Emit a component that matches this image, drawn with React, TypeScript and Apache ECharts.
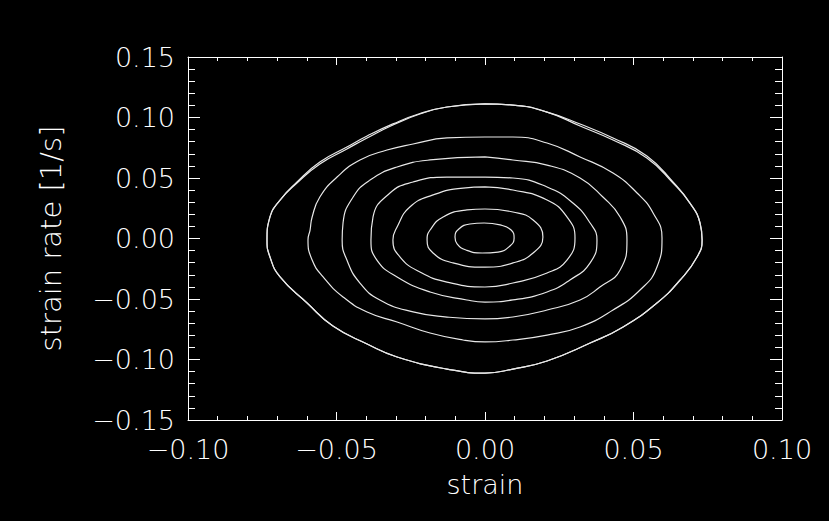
import React, { useEffect, useRef } from "react";
import * as echarts from "echarts";

// Phase-plane trajectories: [strain, strain rate [1/s]]
const loop1: [number, number][] = [
  [-0.0003, 0.0128], [0.0051, 0.0112], [0.0088, 0.007], [0.0098, 0.0004],
  [0.0084, -0.0062], [0.0044, -0.0112], [-0.001, -0.012], [-0.0064, -0.0095],
  [-0.0094, -0.0045], [-0.0101, 0.0012], [-0.0088, 0.0079], [-0.0051, 0.012],
];
const loop2: [number, number][] = [
  [0, 0.0244], [0.0094, 0.0219], [0.0162, 0.0153], [0.0195, 0.0012],
  [0.0162, -0.012], [0.0094, -0.0202], [0, -0.0236], [-0.0108, -0.0202],
  [-0.0175, -0.012], [-0.0195, -0.0012], [-0.0185, 0.007], [-0.0141, 0.0178],
  [-0.0061, 0.0236],
];
const loop3: [number, number][] = [
  [0, 0.0426], [0.0094, 0.0401], [0.0209, 0.0318], [0.0276, 0.0178],
  [0.0303, 0.0004], [0.0276, -0.0178], [0.0209, -0.0285], [0.0094, -0.0368],
  [0, -0.0401], [-0.0128, -0.036], [-0.0219, -0.0277], [-0.0286, -0.0153],
  [-0.031, -0.0012], [-0.0296, 0.0095], [-0.0253, 0.026], [-0.0175, 0.036],
  [-0.0074, 0.0417],
];
const loop4: [number, number][] = [
  [0, 0.0508], [0.0094, 0.05], [0.0209, 0.0426], [0.0296, 0.0293],
  [0.0354, 0.0128], [0.0377, -0.0012], [0.0354, -0.0202], [0.0286, -0.0343],
  [0.0209, -0.0442], [0.0094, -0.0508], [0, -0.0525], [-0.0061, -0.0508],
  [-0.0185, -0.0442], [-0.0296, -0.0318], [-0.0364, -0.0178], [-0.0384, -0.0012],
  [-0.0377, 0.0178], [-0.032, 0.0376], [-0.0242, 0.0467], [-0.0128, 0.0508],
];
const loop5: [number, number][] = [
  [0, 0.0674], [0.0094, 0.0649], [0.0209, 0.0607], [0.032, 0.05],
  [0.0397, 0.0343], [0.0455, 0.0178], [0.0478, -0.0012], [0.0455, -0.026],
  [0.0387, -0.0401], [0.032, -0.0508], [0.0209, -0.0591], [0.0094, -0.0649],
  [0, -0.0665], [-0.0128, -0.0649], [-0.0242, -0.0607], [-0.0354, -0.0508],
  [-0.0421, -0.0368], [-0.0465, -0.0178], [-0.0481, -0.0012], [-0.0478, 0.0128],
  [-0.0444, 0.0343], [-0.0387, 0.0483], [-0.0296, 0.0591], [-0.0185, 0.0649],
];
const loop6: [number, number][] = [
  [0, 0.0839], [0.0094, 0.0839], [0.0209, 0.0789], [0.032, 0.0674],
  [0.0431, 0.0541], [0.0512, 0.0376], [0.0566, 0.0211], [0.0596, 0.0004],
  [0.0579, -0.0236], [0.0522, -0.0426], [0.0431, -0.0591], [0.032, -0.0731],
  [0.0209, -0.0798], [0.0094, -0.0839], [0, -0.0855], [-0.0074, -0.0839],
  [-0.0185, -0.0781], [-0.0296, -0.069], [-0.0397, -0.0607], [-0.0478, -0.0483],
  [-0.0545, -0.0318], [-0.0582, -0.0178], [-0.0596, -0.0012], [-0.0589, 0.007],
  [-0.0582, 0.0178], [-0.0556, 0.0343], [-0.0498, 0.0508], [-0.0421, 0.0649],
  [-0.033, 0.0731], [-0.0242, 0.0781], [-0.0128, 0.0831],
];
const loop7: [number, number][] = [
  [0, 0.1112], [0.0094, 0.1103], [0.0209, 0.1045], [0.032, 0.093],
  [0.0431, 0.0814], [0.0545, 0.0665], [0.0633, 0.0459], [0.069, 0.0293],
  [0.0724, 0.0128], [0.0731, -0.0012], [0.0714, -0.0153], [0.0657, -0.0343],
  [0.0579, -0.0533], [0.0465, -0.0731], [0.0354, -0.0864], [0.0209, -0.1012],
  [0.0094, -0.1079], [0, -0.1112], [-0.0128, -0.1079], [-0.0296, -0.0979],
  [-0.0397, -0.0872], [-0.0512, -0.0723], [-0.0599, -0.0533], [-0.069, -0.0318],
  [-0.0724, -0.0153], [-0.0734, -0.0012], [-0.0724, 0.0178], [-0.069, 0.0318],
  [-0.0633, 0.0459], [-0.0556, 0.0616], [-0.0465, 0.074], [-0.0397, 0.0831],
  [-0.031, 0.0938], [-0.0219, 0.1029], [-0.0128, 0.1087],
];
// a second, slightly displaced pass of the outermost orbit
const loop7b: [number, number][] = [
  [0, 0.1112], [0.0094, 0.1103], [0.0209, 0.1045], [0.032, 0.0946],
  [0.0431, 0.0831], [0.0545, 0.0682], [0.0633, 0.0467], [0.069, 0.0293],
  [0.0724, 0.0128], [0.0731, -0.0012], [0.0714, -0.0153], [0.0657, -0.0343],
  [0.0579, -0.0533], [0.0465, -0.0731], [0.0354, -0.0864], [0.0209, -0.1012],
  [0.0094, -0.1079], [0, -0.1112], [-0.0128, -0.1079], [-0.0296, -0.0979],
  [-0.0397, -0.0872], [-0.0512, -0.0723], [-0.0599, -0.0533], [-0.069, -0.0318],
  [-0.0724, -0.0153], [-0.0734, -0.0012], [-0.0724, 0.0178], [-0.069, 0.0318],
  [-0.0633, 0.0467], [-0.0556, 0.0632], [-0.0465, 0.0756], [-0.0397, 0.0847],
  [-0.031, 0.0947], [-0.0219, 0.1033], [-0.0128, 0.1087],
];

const loops = [loop1, loop2, loop3, loop4, loop5, loop6, loop7, loop7b];

const xTicks = { min: -0.1, max: 0.1, step: 0.05 };
const yTicks = { min: -0.15, max: 0.15, step: 0.05 };

const FONT = "'DejaVu Sans', sans-serif";
const FG = "#ffffff";

const fmt = (v: number) => {
  const a = Math.abs(v) < 1e-9 ? 0 : v;
  return (a < 0 ? "\u2212" : "") + Math.abs(a).toFixed(2);
};

function axisCommon(major: number, minor: number) {
  return {
    axisLine: { show: true, onZero: false, lineStyle: { color: FG, width: 1 } },
    axisTick: { show: true, inside: true, length: major, lineStyle: { color: FG, width: 1 } },
    minorTick: { show: true, splitNumber: 5, length: minor, lineStyle: { color: FG, width: 1 } },
    splitLine: { show: false },
    minorSplitLine: { show: false },
  };
}

export default function App() {
  const ref = useRef<HTMLDivElement>(null);

  useEffect(() => {
    document.body.style.margin = "0";
    document.body.style.background = "#000";
    const chart = echarts.init(ref.current!, undefined, { renderer: "svg" });
    const labelStyle = {
      color: FG,
      fontFamily: FONT,
      fontSize: 27,
      fontWeight: 200 as any,
    };
    chart.setOption({
      animation: false,
      backgroundColor: "#000",
      grid: { left: 188, top: 57, right: 47, bottom: 101, containLabel: false },
      xAxis: [
        {
          type: "value",
          position: "bottom",
          min: xTicks.min,
          max: xTicks.max,
          interval: xTicks.step,
          ...axisCommon(8, 4),
          axisLabel: { ...labelStyle, margin: 16, formatter: fmt },
          name: "strain",
          nameLocation: "middle",
          nameGap: 51,
          nameTextStyle: { ...labelStyle },
        },
        {
          type: "value",
          position: "top",
          min: xTicks.min,
          max: xTicks.max,
          interval: xTicks.step,
          ...axisCommon(8, 4),
          axisLabel: { show: false },
        },
      ],
      yAxis: [
        {
          type: "value",
          position: "left",
          min: yTicks.min,
          max: yTicks.max,
          interval: yTicks.step,
          ...axisCommon(12, 7),
          axisLabel: { ...labelStyle, margin: 13, formatter: fmt },
          name: "strain rate [1/s]",
          nameLocation: "middle",
          nameRotate: 90,
          nameGap: 123,
          nameTextStyle: { ...labelStyle, fontSize: 29 },
        },
        {
          type: "value",
          position: "right",
          min: yTicks.min,
          max: yTicks.max,
          interval: yTicks.step,
          ...axisCommon(12, 7),
          axisLabel: { show: false },
        },
      ],
      series: loops.map((pts) => ({
        type: "line",
        xAxisIndex: 0,
        yAxisIndex: 0,
        data: [...pts, pts[0]],
        smooth: 0.5,
        showSymbol: false,
        symbol: "none",
        silent: true,
        lineStyle: { color: "#e8e8e8", width: 1.2 },
      })),
    });
    return () => chart.dispose();
  }, []);

  return (
    <div
      ref={ref}
      style={{ position: "fixed", left: 0, top: 0, width: 829, height: 521, background: "#000" }}
    />
  );
}
